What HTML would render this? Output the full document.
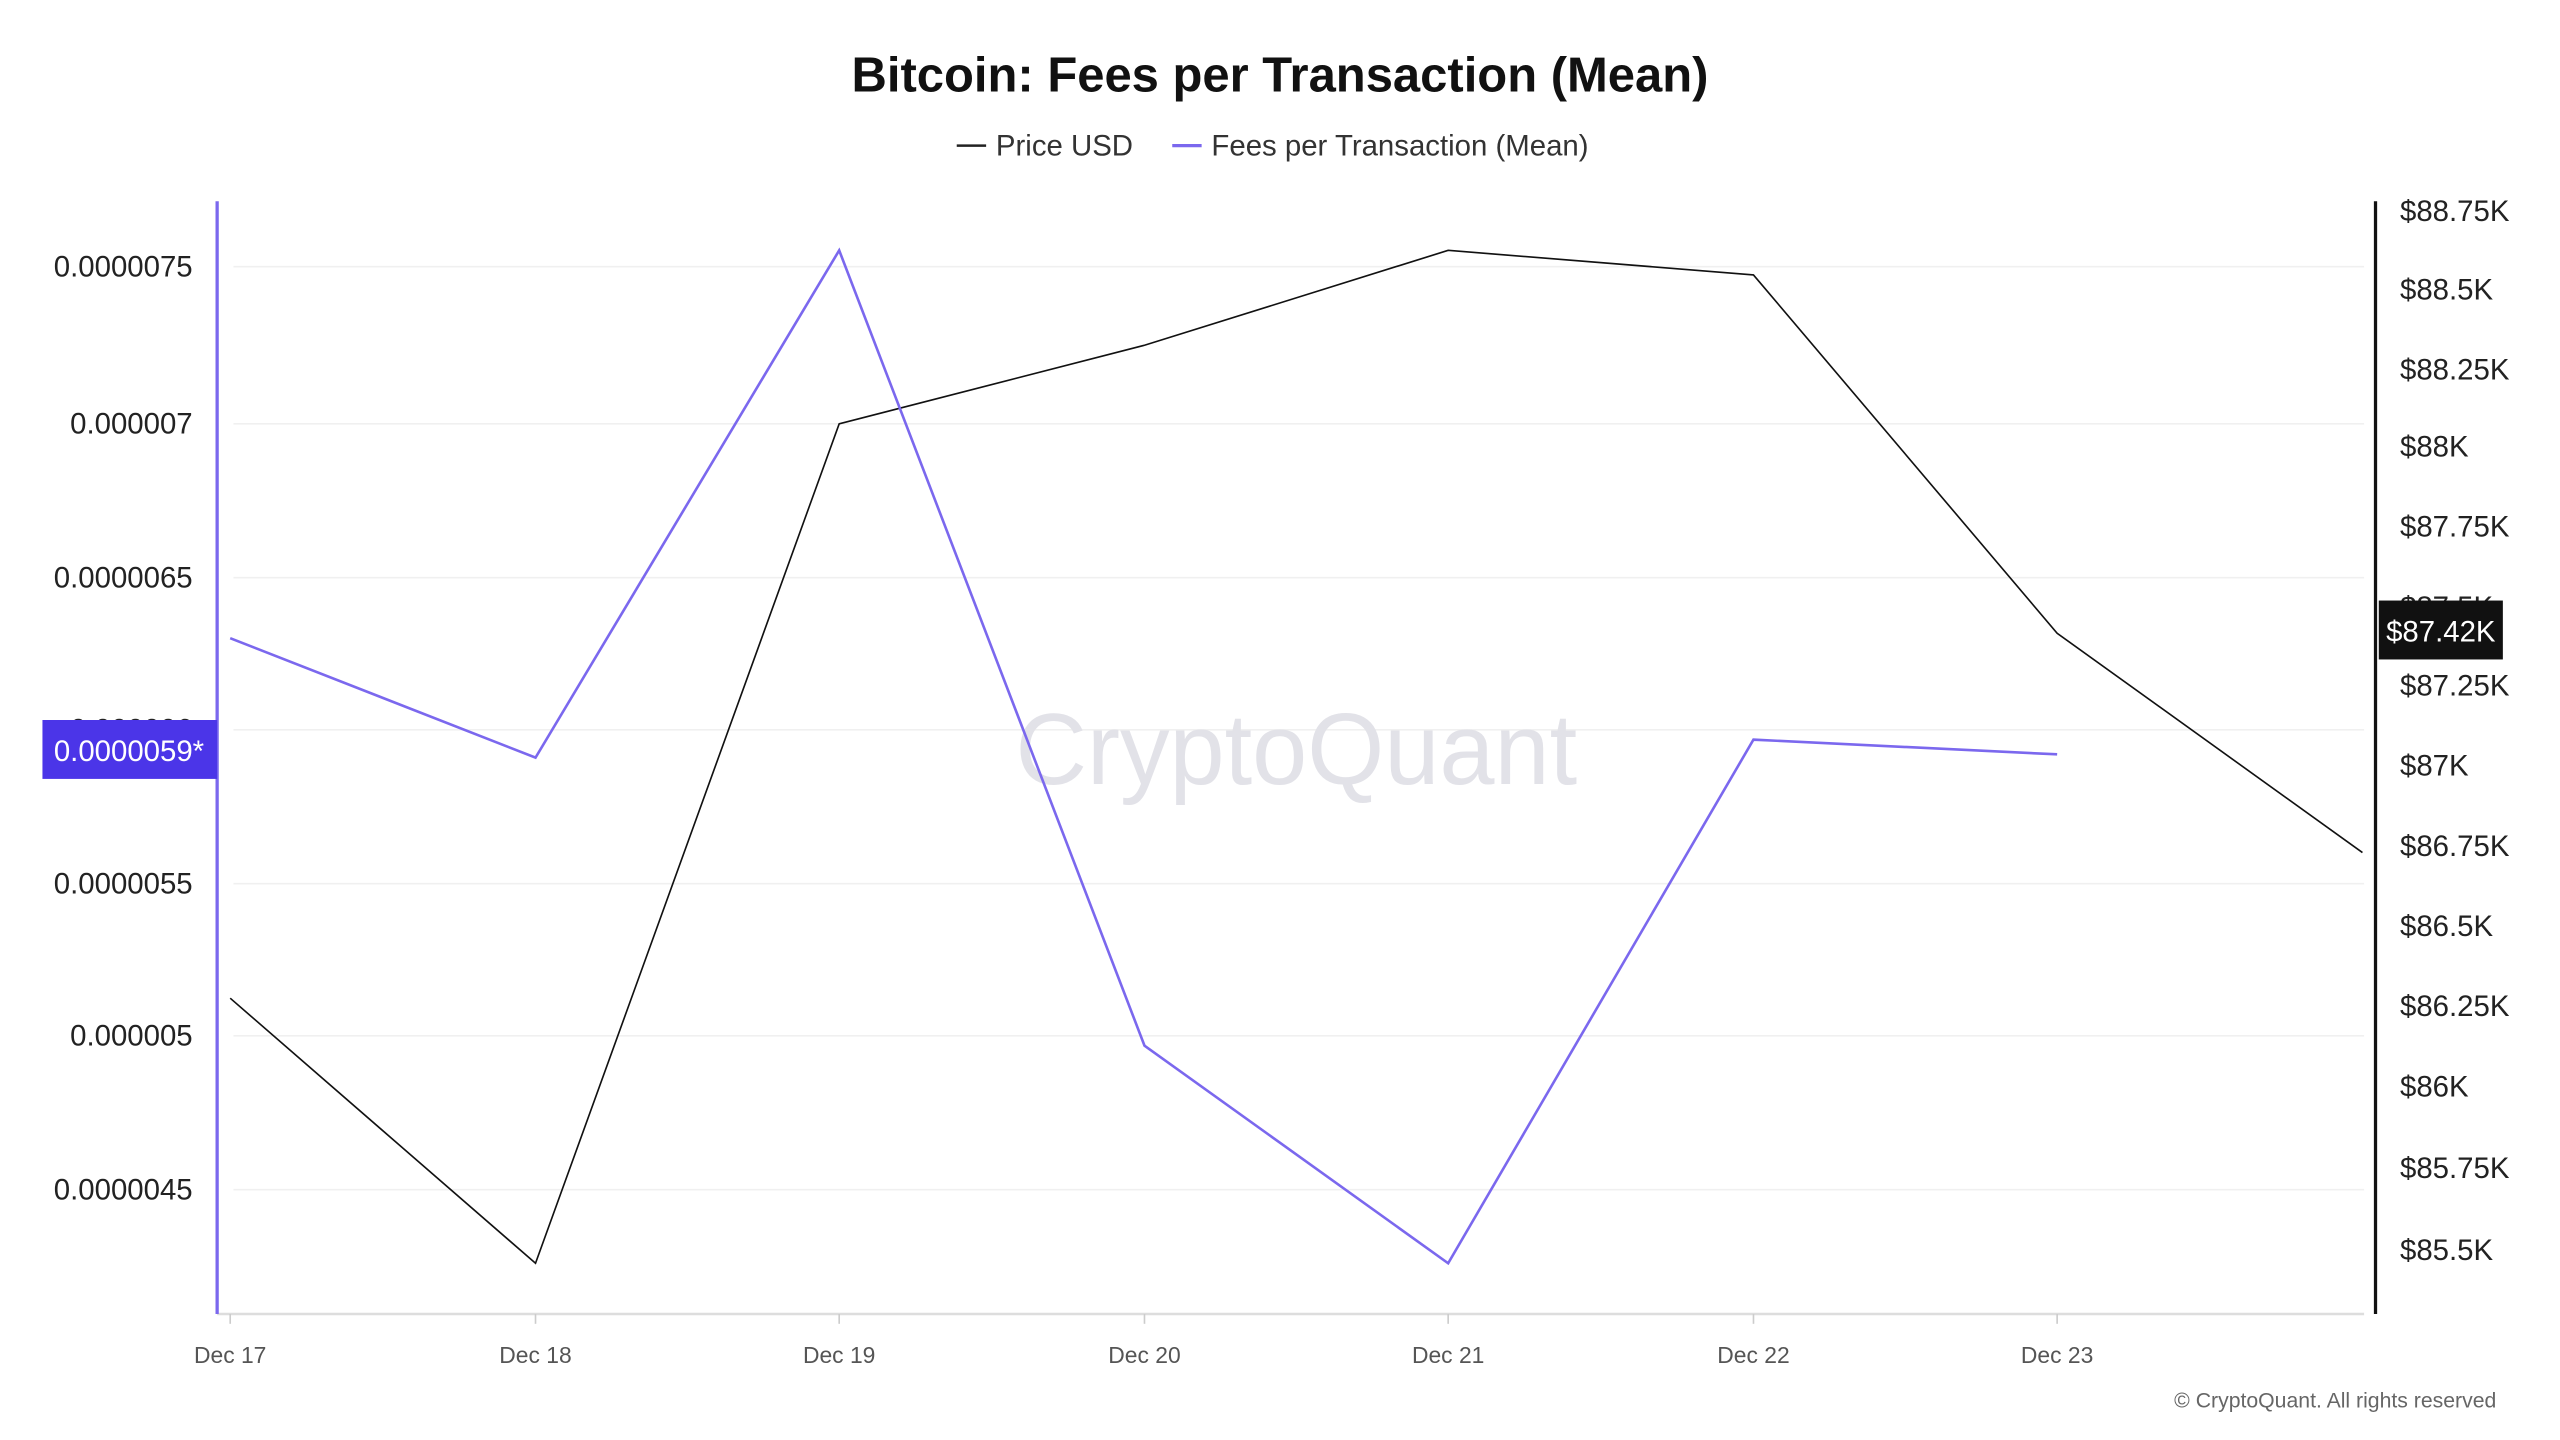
<!DOCTYPE html>
<html><head><meta charset="utf-8"><style>
html,body{margin:0;padding:0;background:#fff;width:2560px;height:1440px;overflow:hidden}
svg{display:block}
text{font-family:"Liberation Sans",sans-serif}
</style></head><body>
<svg width="2560" height="1440" viewBox="0 0 1568 880" preserveAspectRatio="none" xmlns="http://www.w3.org/2000/svg">
<rect width="1568" height="880" fill="#fff"/>
<text x="784" y="56" text-anchor="middle" font-size="30" font-weight="bold" fill="#111">Bitcoin: Fees per Transaction (Mean)</text>
<line x1="586" y1="89" x2="604" y2="89" stroke="#222" stroke-width="1.5"/>
<text x="610" y="95" font-size="18" fill="#333">Price USD</text>
<line x1="718" y1="89" x2="736" y2="89" stroke="#7b68ee" stroke-width="2"/>
<text x="742" y="95" font-size="18" fill="#333">Fees per Transaction (Mean)</text>
<g stroke="#f0f0f0" stroke-width="1">
<line x1="143" y1="163" x2="1448" y2="163"/><line x1="143" y1="259" x2="1448" y2="259"/>
<line x1="143" y1="353" x2="1448" y2="353"/><line x1="143" y1="446" x2="1448" y2="446"/>
<line x1="143" y1="540" x2="1448" y2="540"/><line x1="143" y1="633" x2="1448" y2="633"/>
<line x1="143" y1="727" x2="1448" y2="727"/>
</g>
<text x="794" y="479" text-anchor="middle" font-size="62" fill="#e2e2e8" textLength="344" lengthAdjust="spacingAndGlyphs">CryptoQuant</text>
<line x1="133" y1="803" x2="1448" y2="803" stroke="#ddd" stroke-width="1.5"/>
<line x1="133" y1="123" x2="133" y2="803" stroke="#7b68ee" stroke-width="2"/>
<line x1="1455" y1="123" x2="1455" y2="803" stroke="#111" stroke-width="2"/>
<g font-size="18" fill="#222" text-anchor="end">
<text x="118" y="169">0.0000075</text><text x="118" y="265">0.000007</text>
<text x="118" y="359">0.0000065</text><text x="118" y="452">0.000006</text>
<text x="118" y="546">0.0000055</text><text x="118" y="639">0.000005</text>
<text x="118" y="733">0.0000045</text>
</g>
<g font-size="18" fill="#222">
<text x="1470" y="135">$88.75K</text><text x="1470" y="183">$88.5K</text>
<text x="1470" y="232">$88.25K</text><text x="1470" y="279">$88K</text>
<text x="1470" y="328">$87.75K</text><text x="1470" y="377">$87.5K</text>
<text x="1470" y="425">$87.25K</text><text x="1470" y="474">$87K</text>
<text x="1470" y="523">$86.75K</text><text x="1470" y="572">$86.5K</text>
<text x="1470" y="621">$86.25K</text><text x="1470" y="670">$86K</text>
<text x="1470" y="720">$85.75K</text><text x="1470" y="770">$85.5K</text>
</g>
<g font-size="14" fill="#555" text-anchor="middle">
<text x="141" y="833">Dec 17</text><text x="328" y="833">Dec 18</text><text x="514" y="833">Dec 19</text>
<text x="701" y="833">Dec 20</text><text x="887" y="833">Dec 21</text><text x="1074" y="833">Dec 22</text>
<text x="1260" y="833">Dec 23</text>
</g>
<g stroke="#ccc" stroke-width="1">
<line x1="141" y1="803" x2="141" y2="809"/><line x1="328" y1="803" x2="328" y2="809"/><line x1="514" y1="803" x2="514" y2="809"/>
<line x1="701" y1="803" x2="701" y2="809"/><line x1="887" y1="803" x2="887" y2="809"/><line x1="1074" y1="803" x2="1074" y2="809"/>
<line x1="1260" y1="803" x2="1260" y2="809"/>
</g>
<polyline fill="none" stroke="#111" stroke-width="1" points="141,610 328,772 514,259 701,211 887,153 1074,168 1260,387 1447,521"/>
<polyline fill="none" stroke="#7b68ee" stroke-width="1.6" points="141,390 328,463 514,153 701,639 887,772 1074,452 1260,461"/>
<rect x="26" y="440" width="107" height="36" fill="#4b35e8"/>
<text x="79" y="465" text-anchor="middle" font-size="18" fill="#fff">0.0000059*</text>
<rect x="1457" y="367" width="76" height="36" fill="#111"/>
<text x="1495" y="392" text-anchor="middle" font-size="18" fill="#fff">$87.42K</text>
<text x="1529" y="860" text-anchor="end" font-size="13" fill="#666">© CryptoQuant. All rights reserved</text>
</svg>
</body></html>
